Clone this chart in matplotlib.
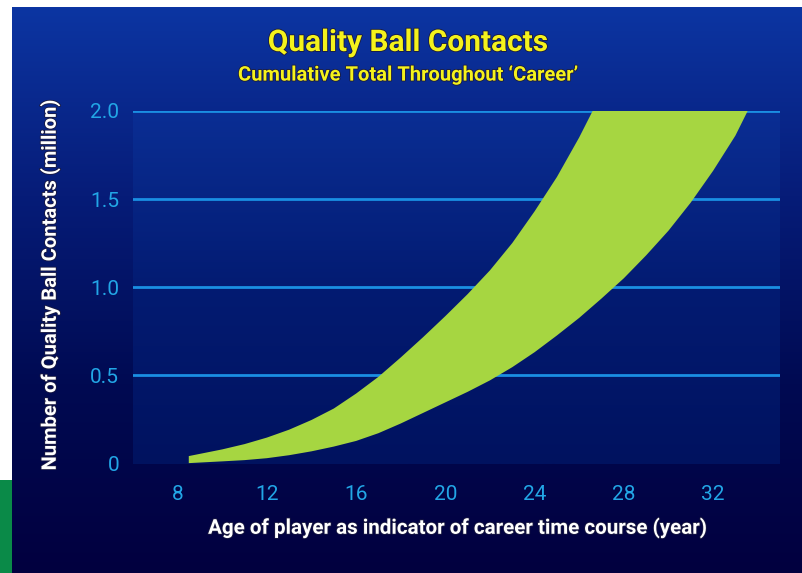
# chart: quality ball contacts, cumulative band over a player's career

import numpy as np
import matplotlib.pyplot as plt
from matplotlib.colors import LinearSegmentedColormap
import matplotlib.patheffects as pe

# data (upper and lower edge of the band)
upper_age = [8.5, 10, 11, 12, 13, 14, 15, 16, 17, 18, 19, 20, 21, 22, 23, 24, 25, 26, 26.6]
upper_val = [0.04, 0.078, 0.108, 0.145, 0.19, 0.245, 0.31, 0.395, 0.49, 0.60, 0.715,
             0.835, 0.96, 1.095, 1.25, 1.43, 1.625, 1.85, 2.0]
lower_age = [8.5, 10, 11, 12, 13, 14, 15, 16, 17, 18, 19, 20, 21, 22, 23, 24, 25, 26,
             27, 28, 29, 30, 31, 32, 33, 33.55]
lower_val = [0.0, 0.01, 0.017, 0.028, 0.045, 0.067, 0.094, 0.126, 0.17, 0.225, 0.285,
             0.345, 0.405, 0.47, 0.545, 0.63, 0.725, 0.825, 0.935, 1.05, 1.18, 1.32,
             1.48, 1.66, 1.86, 2.0]

x_ticks = [8, 12, 16, 20, 24, 28, 32]
y_ticks = [0, 0.5, 1.0, 1.5, 2.0]
y_tick_labels = ["0", "0.5", "1.0", "1.5", "2.0"]

title = "Quality Ball Contacts"
subtitle = "Cumulative Total Throughout \u2018Career\u2019"
x_label = "Age of player as indicator of career time course (year)"
y_label = "Number of Quality Ball Contacts (million)"

plt.rcParams["font.family"] = ["Roboto", "DejaVu Sans"]

W, H = 803, 573
fig = plt.figure(figsize=(W / 100, H / 100), dpi=100)
fig.patch.set_facecolor("white")

# outer gradient panel
bg = fig.add_axes([12 / W, 0, 1 - 12 / W, 1 - 7 / H])
bg_cmap = LinearSegmentedColormap.from_list("bg", ["#0c35a2", "#061c78", "#000a52", "#02003f"])
bg.imshow(np.linspace(0, 1, 256).reshape(-1, 1), aspect="auto", cmap=bg_cmap,
          extent=[0, 1, 0, 1], origin="upper")
bg.set_axis_off()

# green strip on the left edge
strip = fig.add_axes([0, 0, 12 / W, 93 / H])
strip.set_facecolor("#0a8a48")
strip.set_xticks([])
strip.set_yticks([])
for s in strip.spines.values():
    s.set_visible(False)

ax = fig.add_axes([133 / W, 1 - 464 / H, (780 - 133) / W, (464 - 111) / H])
ax.set_xlim(6, 35)
ax.set_ylim(-0.005, 2.0)
ax_cmap = LinearSegmentedColormap.from_list("ax", ["#0a2e94", "#031b72", "#00125f"])
ax.imshow(np.linspace(0, 1, 256).reshape(-1, 1), aspect="auto", cmap=ax_cmap,
          extent=[6, 35, -0.005, 2.0], origin="upper", zorder=0)

for yv in y_ticks[1:]:
    ax.axhline(yv, color="#1a8fe3", lw=2, zorder=1)

# band polygon: upper curve up, across the top, lower curve back down
poly_x = upper_age + lower_age[::-1]
poly_y = upper_val + lower_val[::-1]
ax.fill(poly_x, poly_y, color="#a6d641", lw=0, zorder=2)

ax.set_xticks(x_ticks)
ax.set_yticks(y_ticks)
ax.set_yticklabels(y_tick_labels)
ax.tick_params(length=0, labelsize=15, labelcolor="#22a6e6")
ax.tick_params(axis="x", pad=15)
ax.tick_params(axis="y", pad=10)
for s in ax.spines.values():
    s.set_visible(False)

outline = [pe.withStroke(linewidth=1.2, foreground="#1a1a40")]

fig.text(408 / W, 1 - 43 / H, title, ha="center", va="center", fontsize=21.5,
         fontweight="bold", color="#f4f21c", path_effects=outline)
fig.text(408 / W, 1 - 75 / H, subtitle, ha="center", va="center", fontsize=14.5,
         fontweight="bold", color="#f4f21c", path_effects=outline)
fig.text(457 / W, 1 - 528 / H, x_label, ha="center", va="center", fontsize=14.8,
         fontweight="bold", color="white", path_effects=outline)
fig.text(50 / W, 1 - 285 / H, y_label, ha="center", va="center", fontsize=14.5,
         fontweight="bold", color="white", rotation=90, path_effects=outline)

fig.savefig("out.png", dpi=100)
